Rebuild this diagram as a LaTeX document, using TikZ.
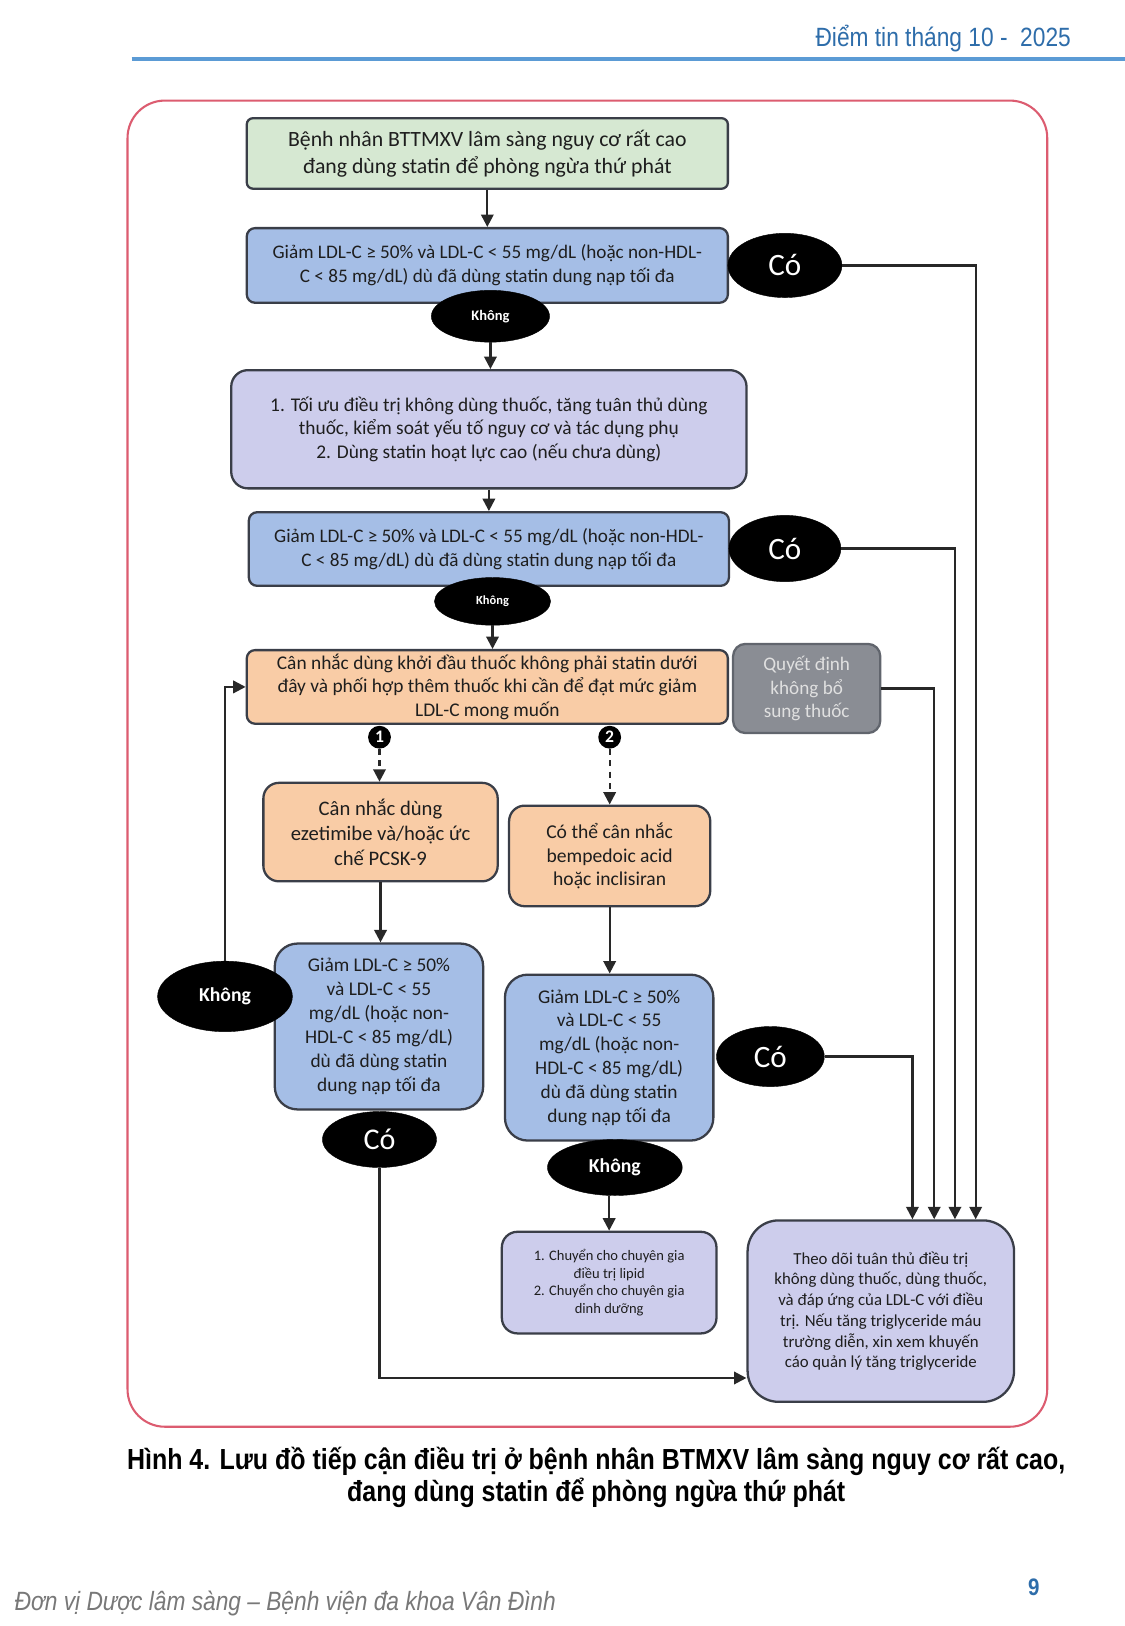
\documentclass[tikz,border=0pt]{standalone}
\usepackage{fontspec}
\setmainfont{Carlito}
\newfontfamily\arialn[FakeStretch=0.86]{Liberation Sans}
\usetikzlibrary{shapes.geometric,arrows.meta}
\definecolor{bordc}{RGB}{58,62,72}
\definecolor{linec}{RGB}{40,40,40}
\definecolor{txt}{RGB}{30,30,30}
\definecolor{greenf}{RGB}{214,232,210}
\definecolor{bluef}{RGB}{165,190,230}
\definecolor{lavf}{RGB}{205,205,236}
\definecolor{orangef}{RGB}{249,204,166}
\definecolor{grayf}{RGB}{138,141,148}
\definecolor{headblue}{RGB}{46,109,170}
\definecolor{lineblue}{RGB}{91,155,213}
\definecolor{framec}{RGB}{220,92,112}
\definecolor{footgray}{RGB}{120,120,120}
\newcommand{\fs}[2]{\fontsize{#1}{#2}\selectfont}
\tikzset{
  box/.style={draw=bordc, line width=2.2pt, align=center, inner sep=2pt, text=txt},
  oval/.style={ellipse, fill=black, draw=black, text=white, inner sep=0pt, align=center},
  arr/.style={draw=linec, line width=2.2pt, -{Triangle[length=12pt,width=12pt]}},
  darr/.style={arr, dash pattern=on 6pt off 5pt},
  numc/.style={circle, fill=black, text=white, minimum size=22pt, inner sep=0pt, font=\bfseries\fs{17}{17}},
}
\begin{document}
\begin{tikzpicture}[x=1pt,y=-1pt]
\useasboundingbox (0,0) rectangle (1085,1568.2);
\fill[white] (0,0) rectangle (1085,1568.2);
% header
\node[anchor=base east, text=headblue, font=\arialn\fs{25.5}{28}, inner sep=0] (head) at (1033,45) {Điểm tin tháng 10 -\ \ 2025};
\draw[lineblue, line width=4pt] (127,57) -- (1085,57);
% frame
\draw[framec, line width=2pt, rounded corners=36pt] (123,97) rectangle (1010,1376);
% boxes
\node[box, fill=greenf, rounded corners=6pt, minimum width=464pt, minimum height=68pt, font=\fs{21}{26}] (start) at (470,148) {Bệnh nhân BTTMXV lâm sàng nguy cơ rất cao\\đang dùng statin để phòng ngừa thứ phát};
\node[box, fill=bluef, rounded corners=8pt, minimum width=464pt, minimum height=72pt, font=\fs{18.5}{23}] (b1) at (470,256) {Giảm LDL-C ≥ 50\% và LDL-C < 55 mg/dL (hoặc non-HDL-\\C < 85 mg/dL) dù đã dùng statin dung nạp tối đa};
\node[box, fill=lavf, rounded corners=16pt, minimum width=497pt, minimum height=114pt, font=\fs{18.7}{23}] (lav) at (471.5,414) {1. Tối ưu điều trị không dùng thuốc, tăng tuân thủ dùng\\thuốc, kiểm soát yếu tố nguy cơ và tác dụng phụ\\2. Dùng statin hoạt lực cao (nếu chưa dùng)};
\node[box, fill=bluef, rounded corners=8pt, minimum width=463pt, minimum height=71pt, font=\fs{18.5}{23}] (b2) at (471.5,529.5) {Giảm LDL-C ≥ 50\% và LDL-C < 55 mg/dL (hoặc non-HDL-\\C < 85 mg/dL) dù đã dùng statin dung nạp tối đa};
\node[box, fill=orangef, rounded corners=8pt, minimum width=464pt, minimum height=71pt, font=\fs{18.7}{23}] (or) at (470,662.5) {Cân nhắc dùng khởi đầu thuốc không phải statin dưới\\đây và phối hợp thêm thuốc khi cần để đạt mức giảm\\LDL-C mong muốn};
\node[box, fill=grayf, draw=bordc!80, rounded corners=12pt, minimum width=142pt, minimum height=86pt, text=white!88!black, font=\fs{18.5}{23}] (gray) at (778,664) {Quyết định\\không bổ\\sung thuốc};
\node[box, fill=orangef, rounded corners=15pt, minimum width=226pt, minimum height=95pt, font=\fs{19.9}{24}] (eze) at (367,802.5) {Cân nhắc dùng\\ezetimibe và/hoặc ức\\chế PCSK-9};
\node[box, fill=orangef, rounded corners=15pt, minimum width=194pt, minimum height=97pt, font=\fs{18.9}{23}] (bemp) at (588,825.5) {Có thể cân nhắc\\bempedoic acid\\hoặc inclisiran};
\node[box, fill=bluef, rounded corners=22pt, minimum width=201pt, minimum height=160pt, font=\fs{18.7}{23}] (b3) at (365.5,990) {Giảm LDL-C ≥ 50\%\\và LDL-C < 55\\mg/dL (hoặc non-\\HDL-C < 85 mg/dL)\\dù đã dùng statin\\dung nạp tối đa};
\node[box, fill=bluef, rounded corners=22pt, minimum width=201pt, minimum height=160pt, font=\fs{18.7}{23}] (b4) at (587.5,1020) {Giảm LDL-C ≥ 50\%\\và LDL-C < 55\\mg/dL (hoặc non-\\HDL-C < 85 mg/dL)\\dù đã dùng statin\\dung nạp tối đa};
\node[box, fill=lavf, rounded corners=15pt, minimum width=207pt, minimum height=98pt, font=\fs{14}{17}] (ref) at (587.5,1237) {1. Chuyển cho chuyên gia\\điều trị lipid\\2. Chuyển cho chuyên gia\\dinh dưỡng};
\node[box, fill=lavf, rounded corners=30pt, minimum width=257pt, minimum height=175pt, font=\fs{16.2}{20}] (big) at (849.5,1264.5) {Theo dõi tuân thủ điều trị\\không dùng thuốc, dùng thuốc,\\và đáp ứng của LDL-C với điều\\trị. Nếu tăng triglyceride máu\\trường diễn, xin xem khuyến\\cáo quản lý tăng triglyceride};
% ovals
\node[oval, minimum width=110pt, minimum height=62pt, font=\fs{30}{30}] (co1) at (757,256) {Có};
\node[oval, minimum width=114pt, minimum height=50pt, font=\bfseries\fs{14}{14}] (k1) at (473,305) {Không};
\node[oval, minimum width=108pt, minimum height=64pt, font=\fs{30}{30}] (co2) at (757,529) {Có};
\node[oval, minimum width=112pt, minimum height=46pt, font=\bfseries\fs{12}{12}] (k2) at (475,580) {Không};
\node[oval, minimum width=130pt, minimum height=68pt, font=\bfseries\fs{19}{19}] (kl) at (217,961) {Không};
\node[oval, minimum width=110pt, minimum height=54pt, font=\fs{29}{29}] (cob) at (366,1099) {Có};
\node[oval, minimum width=104pt, minimum height=58pt, font=\fs{30}{30}] (cor) at (743,1019) {Có};
\node[oval, minimum width=130pt, minimum height=54pt, font=\bfseries\fs{19}{19}] (k4) at (593,1126) {Không};
\node[numc] (n1) at (366,711) {1};
\node[numc] (n2) at (588,711) {2};
% connectors
\draw[arr] (start) -- (b1);
\draw[arr] (k1.south) -- (k1.south |- lav.north);
\draw[arr] (lav) -- (b2);
\draw[arr] (k2.south) -- (k2.south |- or.north);
\draw[darr] (n1) -- (n1 |- eze.north);
\draw[darr] (n2) -- (n2 |- bemp.north);
\draw[arr] (eze.south) -- (eze.south |- b3.north);
\draw[arr] (bemp.south) -- (bemp.south |- b4.north);
\draw[arr] (ref.north |- k4.south) -- (ref.north);
\draw[arr] (kl.north) |- (or.west);
\draw[arr] (cob.south) |- ([yshift=-64.5pt]big.west);
\draw[arr] (co1.east) -| ([xshift=91.5pt]big.north);
\draw[arr] (co2.east) -| ([xshift=71.5pt]big.north);
\draw[arr] (gray.east) -| ([xshift=51.5pt]big.north);
\draw[arr] (cor.east) -| ([xshift=30.5pt]big.north);
% caption
\node[font=\arialn\bfseries\fs{28}{31}, align=center, text=black] (cap) at (575,1425) {Hình 4. Lưu đồ tiếp cận điều trị ở bệnh nhân BTMXV lâm sàng nguy cơ rất cao,\\đang dùng statin để phòng ngừa thứ phát};
% footer
\node[anchor=base west, font=\arialn\itshape\fs{25.5}{28}, text=footgray, inner sep=0] (foot) at (14,1553) {Đơn vị Dược lâm sàng – Bệnh viện đa khoa Vân Đình};
\node[anchor=base, font=\arialn\bfseries\fs{23}{26}, text=headblue, inner sep=0] (pg) at (997,1539) {9};
\end{tikzpicture}
\end{document}
